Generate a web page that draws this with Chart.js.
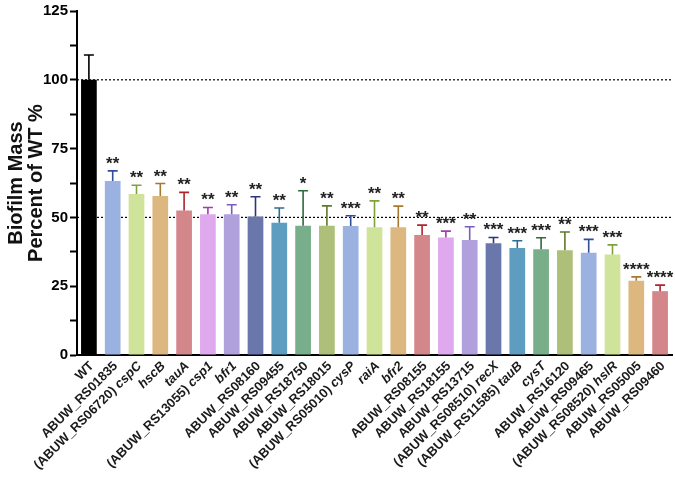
<!DOCTYPE html>
<html>
<head>
<meta charset="utf-8">
<script src="https://cdn.jsdelivr.net/npm/chart.js@4.4.1/dist/chart.umd.min.js"></script>
<style>
  html, body { margin: 0; padding: 0; background: #fff; }
  #wrap { width: 675px; height: 480px; }
</style>
</head>
<body>
<div id="wrap"><canvas id="chart"></canvas></div>
<script>
  const strains = [
    'WT', 'ABUW_RS01835', '(ABUW_RS06720) cspC', 'hscB', 'tauA',
    '(ABUW_RS13055) csp1', 'bfr1', 'ABUW_RS08160', 'ABUW_RS09455', 'ABUW_RS18750',
    'ABUW_RS18015', '(ABUW_RS05010) cysP', 'raiA', 'bfr2', 'ABUW_RS08155',
    'ABUW_RS18155', 'ABUW_RS13715', '(ABUW_RS08510) recX', '(ABUW_RS11585) tauB', 'cysT',
    'ABUW_RS16120', 'ABUW_RS09465', '(ABUW_RS08520) hslR', 'ABUW_RS05005', 'ABUW_RS09460'
  ];
  const biofilm = [
    100, 63.2, 58.5, 57.8, 52.5,
    51.1, 51.1, 50.3, 48.1, 47.0,
    47.0, 46.9, 46.4, 46.4, 43.6,
    42.7, 41.8, 40.6, 38.9, 38.4,
    38.1, 37.2, 36.5, 27.0, 23.2
  ];
  const sd = [
    9.0, 3.7, 3.2, 4.5, 6.6,
    2.5, 3.5, 7.2, 5.3, 12.7,
    7.2, 3.7, 9.6, 7.7, 3.6,
    2.3, 4.8, 2.1, 2.6, 4.2,
    6.6, 4.8, 3.5, 1.4, 2.2
  ];
  const stars = [
    '', '**', '**', '**', '**',
    '**', '**', '**', '**', '*',
    '**', '***', '**', '**', '**',
    '***', '**', '***', '***', '***',
    '**', '***', '***', '****', '****'
  ];
  const refLines = [50, 100];

  const fills = ['#9bb2e0', '#cfe39a', '#dcb880', '#d4878b', '#dfa9ee',
                 '#b0a0dc', '#6a77ab', '#5e9cc0', '#79ae8a', '#aebf7a'];
  const darks = ['#2f4e9c', '#7fa23a', '#a67a2e', '#b0242b', '#a23bb0',
                 '#7a5cc0', '#2a3580', '#2f6c90', '#2e6a3a', '#5e7a2a'];
  const FONT = '"Liberation Sans", Arial, sans-serif';

  const barColors = strains.map((s, i) => i === 0 ? '#000' : fills[(i - 1) % 10]);
  const errColors = strains.map((s, i) => i === 0 ? '#000' : darks[(i - 1) % 10]);

  const extras = {
    id: 'extras',
    beforeDatasetsDraw(chart) {
      const { ctx, chartArea, scales: { y } } = chart;
      ctx.save();
      ctx.strokeStyle = '#000';
      ctx.lineWidth = 1.2;
      ctx.setLineDash([2, 2]);
      refLines.forEach(v => {
        const py = y.getPixelForValue(v);
        ctx.beginPath();
        ctx.moveTo(chartArea.left, py);
        ctx.lineTo(chartArea.right, py);
        ctx.stroke();
      });
      ctx.restore();
    },
    afterDatasetsDraw(chart) {
      const { ctx, scales: { x, y } } = chart;
      const meta = chart.getDatasetMeta(0);
      ctx.save();
      meta.data.forEach((bar, i) => {
        const cx = bar.x;
        const top = y.getPixelForValue(biofilm[i]);
        const hi = y.getPixelForValue(biofilm[i] + sd[i]);
        ctx.strokeStyle = errColors[i];
        ctx.lineWidth = 1.6;
        ctx.beginPath();
        ctx.moveTo(cx, top);
        ctx.lineTo(cx, hi);
        ctx.moveTo(cx - 5, hi);
        ctx.lineTo(cx + 5, hi);
        ctx.stroke();
        if (stars[i]) {
          ctx.fillStyle = '#222';
          ctx.font = 'bold 17px ' + FONT;
          ctx.textAlign = 'center';
          ctx.textBaseline = 'alphabetic';
          ctx.fillText(stars[i], cx, hi - 2);
        }
      });

      // category labels, gene names in italics
      ctx.fillStyle = '#1a1a1a';
      ctx.textBaseline = 'middle';
      ctx.textAlign = 'right';
      strains.forEach((s, i) => {
        const px = x.getPixelForValue(i);
        const words = s.split(' ');
        const last = words[words.length - 1];
        const italic = !/^ABUW|^WT/.test(last);
        ctx.save();
        ctx.translate(px + 3, y.bottom + 9);
        ctx.rotate(-Math.PI / 4);
        if (italic) {
          ctx.font = 'italic bold 13px ' + FONT;
          ctx.fillText(last, 0, 0);
          const w = ctx.measureText(last + ' ').width;
          const rest = words.slice(0, -1).join(' ');
          if (rest) {
            ctx.font = 'bold 13px ' + FONT;
            ctx.fillText(rest, -w, 0);
          }
        } else {
          ctx.font = 'bold 13px ' + FONT;
          ctx.fillText(s, 0, 0);
        }
        ctx.restore();
      });
      ctx.restore();
    }
  };

  new Chart(document.getElementById('chart'), {
    type: 'bar',
    data: {
      labels: strains,
      datasets: [{
        data: biofilm,
        backgroundColor: barColors,
        borderWidth: 0,
        categoryPercentage: 1,
        barPercentage: 0.66
      }]
    },
    options: {
      responsive: true,
      maintainAspectRatio: false,
      animation: false,
      devicePixelRatio: 1,
      layout: { padding: { top: 6, right: 3, left: 0, bottom: 0 } },
      plugins: { legend: { display: false }, tooltip: { enabled: false } },
      scales: {
        x: {
          afterFit(s) { s.height = 125; },
          grid: { display: false, drawTicks: true, tickLength: 6, tickColor: '#000', tickWidth: 2 },
          border: { color: '#000', width: 2 },
          ticks: { display: false }
        },
        y: {
          min: 0,
          max: 125,
          afterFit(s) { s.width = 77; },
          grid: { drawOnChartArea: false, tickLength: 7, tickColor: '#000', tickWidth: 2 },
          border: { color: '#000', width: 2 },
          ticks: {
            stepSize: 12.5,
            autoSkip: false,
            padding: 2,
            color: '#000',
            font: { family: FONT, size: 15, weight: 'bold' },
            callback: v => (v % 25 === 0 ? v : '')
          },
          title: {
            display: true,
            text: ['Biofilm Mass', 'Percent of WT %'],
            color: '#111',
            font: { family: FONT, size: 20, weight: 'bold', lineHeight: 1.0 },
            padding: { top: 6, bottom: 0 }
          }
        }
      }
    },
    plugins: [extras]
  });
</script>
</body>
</html>
